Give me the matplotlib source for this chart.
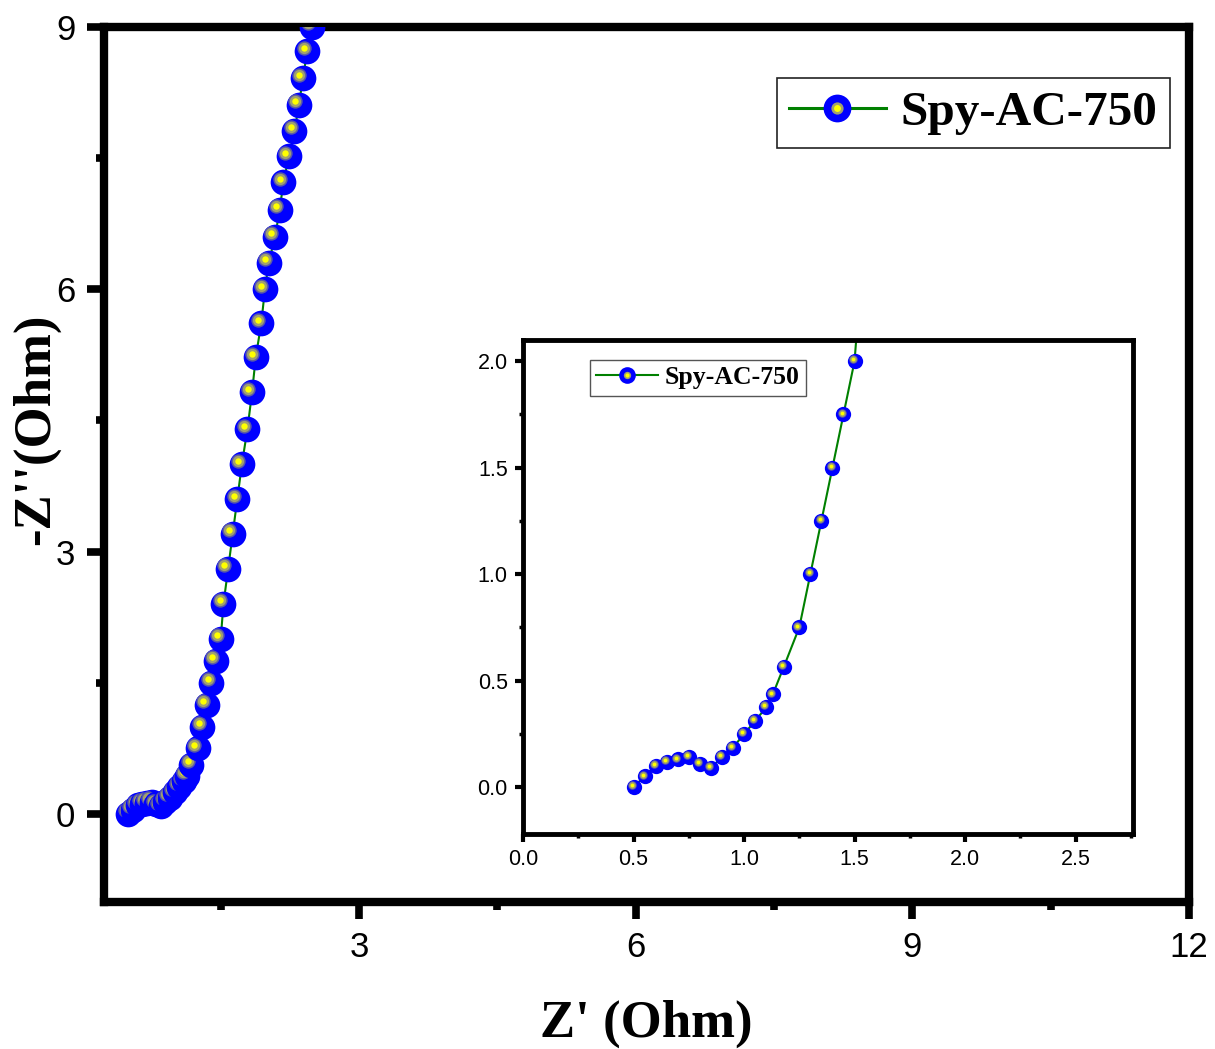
import matplotlib
matplotlib.use('Agg')
import matplotlib.pyplot as plt
from matplotlib.lines import Line2D
from matplotlib.legend_handler import HandlerTuple
from matplotlib.ticker import MultipleLocator, FormatStrFormatter
from matplotlib.transforms import ScaledTranslation

# Nyquist data, Spy-AC-750
z_re = [0.50, 0.55, 0.60, 0.65, 0.70, 0.75, 0.80, 0.85, 0.90, 0.95,
        1.00, 1.05, 1.10, 1.13, 1.18, 1.25, 1.30, 1.35, 1.40, 1.45,
        1.50, 1.53, 1.58, 1.63, 1.68, 1.73, 1.79, 1.84, 1.88, 1.94,
        1.98, 2.02, 2.09, 2.14, 2.18, 2.24, 2.30, 2.35, 2.39, 2.44, 2.49]
z_im = [0.00, 0.05, 0.10, 0.12, 0.13, 0.14, 0.11, 0.09, 0.14, 0.185,
        0.25, 0.31, 0.375, 0.435, 0.565, 0.75, 1.00, 1.25, 1.50, 1.75,
        2.00, 2.40, 2.80, 3.20, 3.60, 4.00, 4.40, 4.82, 5.22, 5.61,
        6.00, 6.30, 6.60, 6.91, 7.22, 7.52, 7.81, 8.11, 8.41, 8.72, 9.00]
label = 'Spy-AC-750'

BLUE = '#0000ff'
HALO = '#5a5aa8'
RING = '#a0a070'
CORE = '#ffff00'
GREEN = '#008000'
serif = 'Liberation Serif'
sans = 'Liberation Sans'


def spheres(ax, x, y, ms, shift, z0=3):
	# draw each ball in order so later balls cover earlier highlights
	off = ax.transData + ScaledTranslation(-shift / 72, shift / 72, fig.dpi_scale_trans)
	for i, (xi, yi) in enumerate(zip(x, y)):
		z = z0 + i * 0.01
		ax.plot([xi], [yi], 'o', ms=ms, mfc=BLUE, mec=BLUE, mew=0, zorder=z)
		ax.plot([xi], [yi], 'o', ms=ms * 0.56, mfc=HALO, mec=HALO, mew=0, zorder=z + 0.002, transform=off)
		ax.plot([xi], [yi], 'o', ms=ms * 0.44, mfc=RING, mec=RING, mew=0, zorder=z + 0.004, transform=off)
		ax.plot([xi], [yi], 'o', ms=ms * 0.25, mfc=CORE, mec=CORE, mew=0, zorder=z + 0.006, transform=off)


def handle(ms, lw):
	h1 = Line2D([], [], color=GREEN, lw=lw, marker='o', ms=ms, mfc=BLUE, mec=BLUE, mew=0)
	h2 = Line2D([], [], ls='none', marker='o', ms=ms * 0.44, mfc=RING, mec=RING, mew=0)
	h3 = Line2D([], [], ls='none', marker='o', ms=ms * 0.25, mfc=CORE, mec=CORE, mew=0)
	return (h1, h2, h3)


fig = plt.figure(figsize=(12.15, 10.49), dpi=100)

# main axes
ax = fig.add_axes([0.086, 0.1406, 0.8926, 0.8339])
ax.plot(z_re, z_im, color=GREEN, lw=1.5, zorder=2)
spheres(ax, z_re, z_im, 18.5, 2.6)
ax.set_xlim(0.24, 12)
ax.set_ylim(-1.0, 9)
ax.xaxis.set_major_locator(MultipleLocator(3))
ax.xaxis.set_minor_locator(MultipleLocator(1.5))
ax.yaxis.set_major_locator(MultipleLocator(3))
ax.yaxis.set_minor_locator(MultipleLocator(1.5))
for s in ax.spines.values():
	s.set_linewidth(6)
ax.tick_params(which='major', direction='out', length=12, width=5.5, pad=9, labelsize=25)
ax.tick_params(which='minor', direction='out', length=6, width=5.5)
for t in ax.get_xticklabels() + ax.get_yticklabels():
	t.set_fontfamily(sans)
ax.set_xlabel("Z' (Ohm)", fontsize=38, fontweight='bold', family=serif, labelpad=26)
ax.set_ylabel("-Z''(Ohm)", fontsize=38, fontweight='bold', family=serif)
ax.yaxis.set_label_coords(-0.041, 0.54)

leg = ax.legend([handle(20, 2.2)], [label], handler_map={tuple: HandlerTuple(ndivide=1)},
	loc='upper right', bbox_to_anchor=(1170 / 1215, 1 - 78 / 1049), bbox_transform=fig.transFigure,
	borderaxespad=0, numpoints=1, handlelength=1.95, handletextpad=0.3, borderpad=0.26,
	fancybox=False, framealpha=1, edgecolor='#222222',
	prop={'family': serif, 'weight': 'bold', 'size': 35.5})
leg.get_frame().set_linewidth(1.2)

# inset
ins = fig.add_axes([0.4305, 0.205, 0.502, 0.471])
ins.plot(z_re, z_im, color=GREEN, lw=1.5, zorder=2)
spheres(ins, z_re, z_im, 11, 1.3)
ins.set_xlim(0, 2.76)
ins.set_ylim(-0.22, 2.1)
ins.xaxis.set_major_locator(MultipleLocator(0.5))
ins.xaxis.set_minor_locator(MultipleLocator(0.25))
ins.yaxis.set_major_locator(MultipleLocator(0.5))
ins.yaxis.set_minor_locator(MultipleLocator(0.25))
ins.xaxis.set_major_formatter(FormatStrFormatter('%.1f'))
ins.yaxis.set_major_formatter(FormatStrFormatter('%.1f'))
for s in ins.spines.values():
	s.set_linewidth(3.5)
ins.tick_params(which='major', direction='out', length=6, width=3, pad=5, labelsize=15.5)
ins.tick_params(which='minor', direction='out', length=3.2, width=2.5)
for t in ins.get_xticklabels() + ins.get_yticklabels():
	t.set_fontfamily(sans)

leg2 = ins.legend([handle(12, 1.5)], [label], handler_map={tuple: HandlerTuple(ndivide=1)},
	loc='upper left', bbox_to_anchor=(590 / 1215, 1 - 360 / 1049), bbox_transform=fig.transFigure,
	borderaxespad=0, numpoints=1, handlelength=2.4, handletextpad=0.25, borderpad=0.25,
	fancybox=False, framealpha=1, edgecolor='#555555',
	prop={'family': serif, 'weight': 'bold', 'size': 18.5})
leg2.get_frame().set_linewidth(1.0)

plt.savefig('out.png', dpi=100)
